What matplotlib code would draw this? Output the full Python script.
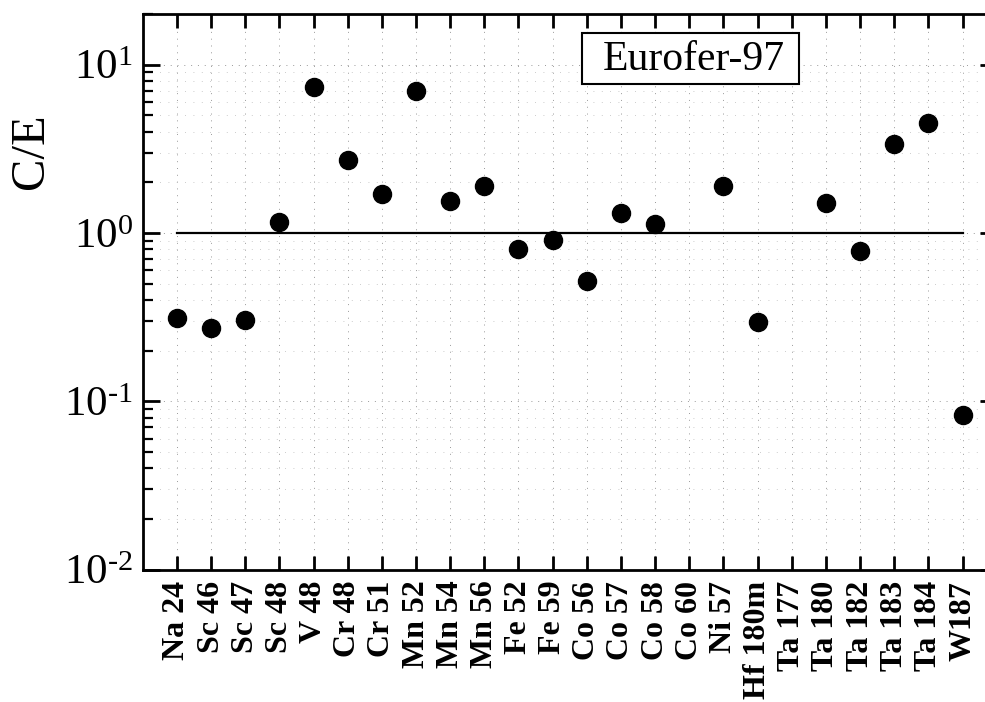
import numpy as np
import matplotlib
matplotlib.use('Agg')
import matplotlib.pyplot as plt
from matplotlib.patches import Rectangle
from matplotlib.ticker import LogLocator, FixedLocator, NullFormatter

# nuclides and C/E ratios (None = no value)
nuclides = ['Na 24', 'Sc 46', 'Sc 47', 'Sc 48', 'V 48', 'Cr 48', 'Cr 51', 'Mn 52',
            'Mn 54', 'Mn 56', 'Fe 52', 'Fe 59', 'Co 56', 'Co 57', 'Co 58', 'Co 60',
            'Ni 57', 'Hf 180m', 'Ta 177', 'Ta 180', 'Ta 182', 'Ta 183', 'Ta 184', 'W187']
ce_ratio = [0.313, 0.273, 0.306, 1.16, 7.33, 2.73, 1.70, 6.93,
            1.55, 1.91, 0.80, 0.91, 0.515, 1.31, 1.13, None,
            1.90, 0.297, None, 1.50, 0.778, 3.39, 4.50, 0.083]
y_ticks = [0.01, 0.1, 1, 10]
y_ticklabels = [r'$10^{\text{-}2}$', r'$10^{\text{-}1}$', r'$10^{0}$', r'$10^{1}$']
material = 'Eurofer-97'

plt.rcParams['font.family'] = ['Liberation Serif', 'DejaVu Serif']
plt.rcParams['mathtext.fontset'] = 'custom'
plt.rcParams['mathtext.rm'] = 'Liberation Serif'
plt.rcParams['mathtext.it'] = 'Liberation Serif:italic'
plt.rcParams['mathtext.bf'] = 'Liberation Serif:bold'

fig = plt.figure(figsize=(9.85, 7.02), dpi=100)
ax = fig.add_axes([0.1449, 0.1887, 0.867, 0.7913])

x = np.arange(1, len(nuclides) + 1)
y = np.array([np.nan if v is None else v for v in ce_ratio], dtype=float)

ax.axhline(1.0, xmin=1/25, xmax=24/25, color='black', lw=1.6, zorder=2)
ax.plot(x, y, 'o', color='black', markersize=13, zorder=3)

ax.set_yscale('log')
ax.set_ylim(0.01, 20)
ax.set_xlim(0, 25)

ax.set_xticks(x)
ax.set_xticklabels(nuclides, rotation=90, fontsize=23, fontweight='bold')
ax.yaxis.set_major_locator(FixedLocator(y_ticks))
ax.set_yticklabels(y_ticklabels, fontsize=31)
ax.yaxis.set_minor_locator(LogLocator(base=10, subs=np.arange(2, 10)))
ax.yaxis.set_minor_formatter(NullFormatter())

ax.tick_params(axis='x', which='major', direction='in', top=True, length=10, width=2, pad=8)
ax.tick_params(axis='y', which='major', direction='in', right=True, length=12, width=2, pad=7)
ax.tick_params(axis='y', which='minor', direction='in', right=True, length=7, width=1.6)

for s in ax.spines.values():
    s.set_linewidth(2)

# faint dotted grid
ax.grid(True, which='major', color='#999999', linestyle=(0, (1, 6)), lw=0.7)
ax.grid(True, which='minor', axis='y', color='#bbbbbb', linestyle=(0, (1, 9)), lw=0.6)
ax.set_axisbelow(True)

ax.set_ylabel('C/E', fontsize=35, va='center')
ax.yaxis.set_label_coords(-0.1308, 0.754)

# material tag in a framed box
ax.add_patch(Rectangle((0.5144, 0.874), 0.2541, 0.0918, transform=ax.transAxes,
                       facecolor='white', edgecolor='black', lw=1.5, zorder=4))
ax.text(0.6456, 0.918, material, transform=ax.transAxes, fontsize=30,
        ha='center', va='center', zorder=5)

fig.savefig('out.png', dpi=100)
